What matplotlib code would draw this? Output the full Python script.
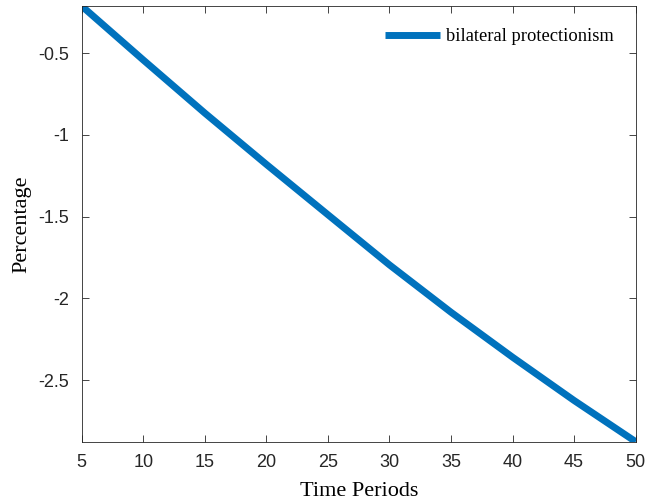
import matplotlib
matplotlib.use("Agg")
import matplotlib.pyplot as plt
from matplotlib.ticker import FuncFormatter

# values
periods = [5, 10, 15, 20, 25, 30, 35, 40, 45, 50]
bilateral = [-0.211, -0.541, -0.866, -1.180, -1.488, -1.795, -2.085, -2.360, -2.625, -2.877]
x_ticks = [5, 10, 15, 20, 25, 30, 35, 40, 45, 50]
y_ticks = [-2.5, -2, -1.5, -1, -0.5]

plt.rcParams['axes.unicode_minus'] = False

fig = plt.figure(figsize=(6.46, 5.03), dpi=100)
ax = fig.add_axes([0.1265, 0.1219, 0.8575, 0.8661])

ax.plot(periods, bilateral, color="#0072BD", linewidth=5, solid_capstyle="butt",
        label="bilateral protectionism")

ax.set_xlim(5, 50)
ax.set_ylim(bilateral[-1], bilateral[0])
ax.set_xticks(x_ticks)
ax.set_yticks(y_ticks)
ax.yaxis.set_major_formatter(FuncFormatter(lambda v, p: f"{v:g}"))

ax.tick_params(direction="in", top=True, right=True, length=5, width=0.6,
               color="#262626", labelsize=13, labelcolor="#262626", pad=9)
for lbl in ax.get_xticklabels() + ax.get_yticklabels():
    lbl.set_fontfamily("Liberation Sans")
for sp in ax.spines.values():
    sp.set_color("#262626")
    sp.set_linewidth(0.6)

ax.set_xlabel("Time Periods", family="Liberation Serif", fontsize=16, labelpad=8)
ax.set_ylabel("Percentage", family="Liberation Serif", fontsize=16, labelpad=5)

leg = ax.legend(loc="upper right", frameon=False, handlelength=3.0,
                prop={"family": "Liberation Serif", "size": 13.3},
                borderaxespad=0.8, handletextpad=0.3)

fig.savefig("out.png", dpi=100)
